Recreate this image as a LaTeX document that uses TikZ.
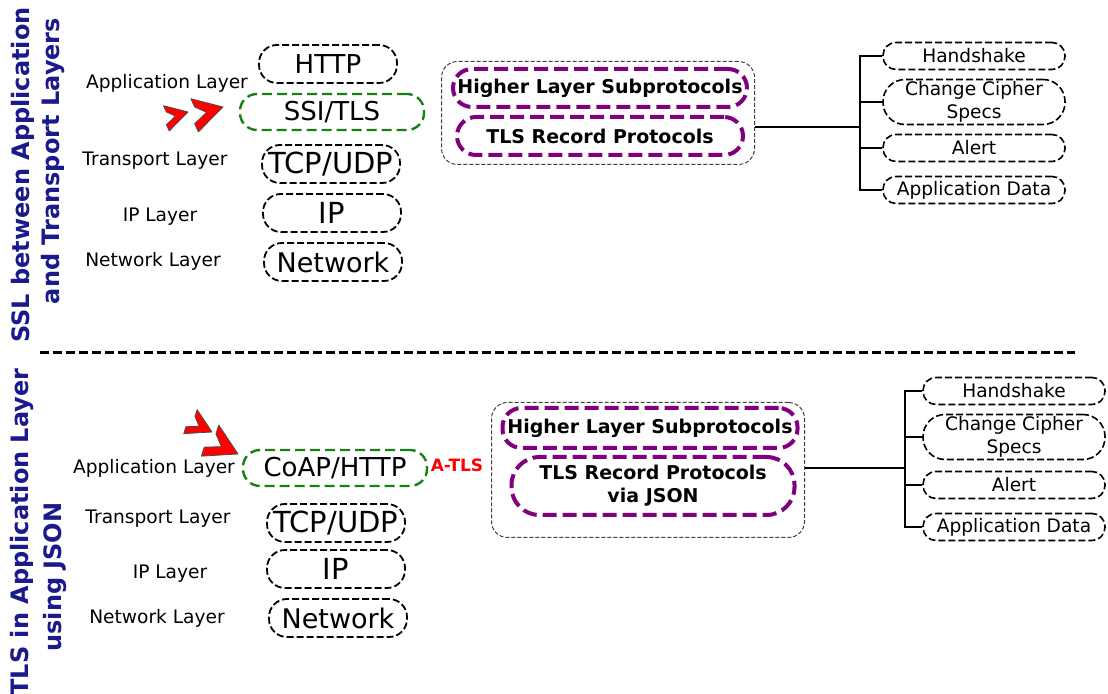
\documentclass[tikz,border=0pt]{standalone}
\usepackage{fontspec}
\setmainfont{DejaVu Sans}
\definecolor{titleblue}{RGB}{26,26,140}
\definecolor{subpurple}{RGB}{128,0,128}
\definecolor{tlsgreen}{RGB}{20,130,20}

\begin{document}
\begin{tikzpicture}[x=0.5pt, y=-0.5pt,
    layerbox/.style ={draw, dash pattern=on 3.5pt off 1.5pt, line width=0.9pt, rounded corners=9pt,
        minimum width=69pt, minimum height=19pt, inner sep=0pt, font=\fontsize{13}{15}\selectfont},
    tlsbox/.style ={layerbox, draw=tlsgreen, dash pattern=on 5pt off 2.5pt, line width=1.2pt,
        minimum width=92pt, minimum height=18pt, rounded corners=8.5pt},
    holder/.style ={draw=black!75, dash pattern=on 2pt off 1pt, line width=0.5pt, rounded corners=8pt,
        minimum width=156.5pt, inner sep=0pt},
    subbox/.style ={draw=subpurple, dash pattern=on 7pt off 3pt, line width=2pt, rounded corners=9.5pt,
        minimum height=19pt, inner sep=0pt, align=center, font=\bfseries\fontsize{9.5}{11.5}\selectfont},
    leafbox/.style ={draw, dash pattern=on 3.5pt off 1.5pt, line width=0.8pt, rounded corners=6.5pt,
        minimum width=91pt, minimum height=13.5pt, inner sep=0pt, align=center,
        font=\fontsize{9.3}{11.5}\selectfont},
    lyr/.style ={font=\fontsize{9.3}{11}\selectfont},
    title/.style ={rotate=90, text=titleblue, font=\bfseries\fontsize{12}{14}\selectfont},
    conn/.style ={line width=1pt},
    chev/.style ={fill=red, draw=black!70, line width=0.4pt, line join=round},
    sepline/.style ={line width=1.5pt, dash pattern=on 4.5pt off 2pt}]
   \useasboundingbox (0,0) rectangle (1108,694);

   % upper half: SSL between application and transport
   \node[title] (titA1) at (23,175) {SSL between Application};
   \node[title] (titA2) at (53,161) {and  Transport Layers};

   \node[lyr] (appA) at (167,83)  {Application Layer};
   \node[lyr] (trA)  at (155,161) {Transport Layer};
   \node[lyr] (iplA) at (160,217) {IP Layer};
   \node[lyr] (nwA)  at (153,261) {Network Layer};

   \node[layerbox] (httpA) at (328,64)  {HTTP};
   \node[tlsbox]   (sslA)  at (332,112) {SSI/TLS};
   \node[layerbox, font=\fontsize{14.5}{16}\selectfont] (tcpA) at (331,164) {TCP/UDP};
   \node[layerbox, font=\fontsize{14.5}{16}\selectfont] (ipA)  at (332,213) {IP};
   \node[layerbox, font=\fontsize{13.5}{15}\selectfont] (netA) at (333,262) {Network};

   \node[holder, minimum height=51.5pt] (holdA) at (598,113) {};
   \node[subbox, minimum width=147pt] (highA) at (600,88)  {Higher Layer Subprotocols};
   \node[subbox, minimum width=143pt] (recA)  at (600,136) {TLS Record Protocols};

   \node[leafbox] (hsA) at (974,56)  {Handshake};
   \node[leafbox, minimum height=22.5pt, rounded corners=11pt] (ccA) at (974,102) {Change Cipher\\Specs};
   \node[leafbox] (alA) at (974,148) {Alert};
   \node[leafbox] (adA) at (974,190) {Application Data};

   \coordinate (busA) at (860,127);
   \draw[conn] (holdA.east |- busA) -- (busA);
   \foreach \n in {hsA,ccA,alA,adA}
      \draw[conn] (\n.west) -| (busA);

   % separator
   \coordinate (sepL) at (40,353);
   \coordinate (sepR) at (1075,353);
   \draw[sepline] (sepL) -- (sepR);

   % lower half: TLS in the application layer
   \node[title] (titB1) at (22,532) {TLS in Application Layer};
   \node[title] (titB2) at (55,577) {using JSON};

   \node[lyr] (appB) at (154,468) {Application Layer};
   \node[lyr] (trB)  at (158,519) {Transport Layer};
   \node[lyr] (iplB) at (170,574) {IP Layer};
   \node[lyr] (nwB)  at (157,618) {Network Layer};

   \node[tlsbox] (coapB) at (335,468) {CoAP/HTTP};
   \node[text=red, font=\bfseries\fontsize{8.5}{10}\selectfont] (atls) at (457,465) {A-TLS};
   \node[layerbox, font=\fontsize{14.5}{16}\selectfont] (tcpB) at (336,523) {TCP/UDP};
   \node[layerbox, font=\fontsize{14.5}{16}\selectfont] (ipB)  at (336,569) {IP};
   \node[layerbox, font=\fontsize{13.5}{15}\selectfont] (netB) at (338,618) {Network};

   \node[holder, minimum height=67.5pt] (holdB) at (648,470) {};
   \node[subbox, minimum width=147.5pt, minimum height=20pt] (highB) at (650,428) {Higher Layer Subprotocols};
   \node[subbox, minimum width=141.5pt, minimum height=29pt, rounded corners=14pt] (recB) at (653,486)
      {TLS Record Protocols\\via JSON};

   \node[leafbox] (hsB) at (1014,391) {Handshake};
   \node[leafbox, minimum height=22.5pt, rounded corners=11pt] (ccB) at (1014,437) {Change Cipher\\Specs};
   \node[leafbox] (alB) at (1014,485) {Alert};
   \node[leafbox] (adB) at (1014,527) {Application Data};

   \coordinate (busB) at (905,468);
   \draw[conn] (holdB.east |- busB) -- (busB);
   \foreach \n in {hsB,ccB,alB,adB}
      \draw[conn] (\n.west) -| (busB);

   % red double chevrons
   \foreach \tx/\ty/\ang/\sc in {188/112/4/0.8, 223/107/4/1.05, 212/432/-38/0.85, 238/454/-38/1.1}
      \filldraw[chev, shift={(\tx,\ty)}, rotate=\ang, scale=\sc]
         (0,0) -- (-30,-10) -- (-27,-2) -- (-16,4) -- (-28,14) -- (-25,22) -- cycle;
 \end{tikzpicture}
\end{document}
